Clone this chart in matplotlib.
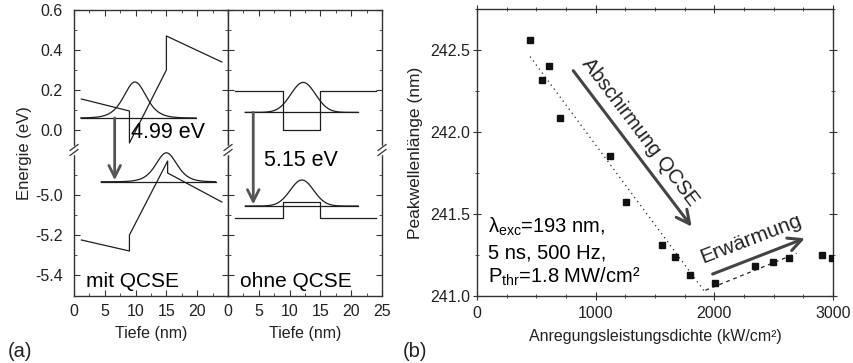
import numpy as np
import matplotlib
matplotlib.use('Agg')
import matplotlib.pyplot as plt
from matplotlib.lines import Line2D
from matplotlib.ticker import FixedLocator, FixedFormatter, MultipleLocator

plt.rcParams['font.family'] = ['Liberation Sans', 'DejaVu Sans']
plt.rcParams['mathtext.fontset'] = 'custom'
plt.rcParams['mathtext.rm'] = 'Liberation Sans'
plt.rcParams['mathtext.it'] = 'Liberation Sans:italic'
plt.rcParams['mathtext.bf'] = 'Liberation Sans:bold'

# ---------------- data (a): band diagrams (depth nm, energy eV) -------------
cb_mit_x = [1.2, 9.0, 9.0, 15.0, 15.0, 24.0]
cb_mit_e = [0.155, 0.095, -0.065, 0.30, 0.47, 0.34]
vb_mit_x = [1.2, 9.0, 9.0, 15.2, 15.2, 24.0]
vb_mit_e = [-5.225, -5.28, -5.20, -4.83, -4.89, -5.035]
lvl_mit_e = [1.1, 19.8, 0.06]        # x start, x end, energy
lvl_mit_h = [4.4, 23.0, -4.934]
wf_mit_e = [9.9, 0.18, 2.45]         # center, amplitude, width
wf_mit_h = [15.0, 0.145, 2.3]

cb_ohne_x = [1.1, 9.0, 9.0, 15.0, 15.0, 24.0]
cb_ohne_e = [0.197, 0.197, 0.0, 0.0, 0.197, 0.197]
vb_ohne_x = [1.1, 9.0, 9.0, 15.0, 15.0, 24.0]
vb_ohne_e = [-5.117, -5.117, -5.033, -5.033, -5.117, -5.117]
lvl_ohne_e = [2.8, 21.1, 0.088]
lvl_ohne_h = [2.8, 21.1, -5.055]
wf_ohne_e = [12.2, 0.15, 2.0]
wf_ohne_h = [12.0, 0.13, 1.9]

arrow_mit_x = 6.6
arrow_ohne_x = 4.1
energy_major = [0.6, 0.4, 0.2, 0.0, -5.0, -5.2, -5.4]
energy_labels = ["0.6", "0.4", "0.2", "0.0", "-5.0", "-5.2", "-5.4"]
energy_minor = [0.5, 0.3, 0.1, -4.9, -5.1, -5.3]

# ---------------- data (b) -------------
power = [447, 548, 609, 697, 1123, 1252, 1556, 1671, 1798, 2005, 2345, 2491, 2632, 2910, 2988]
peak_wl = [242.56, 242.317, 242.40, 242.085, 241.855, 241.573, 241.31, 241.24, 241.13,
           241.077, 241.18, 241.207, 241.23, 241.248, 241.23]
fit1_p = [447, 1929]
fit1_wl = [242.46, 241.016]
fit2_p = [1925, 2693]
fit2_wl = [241.035, 241.26]

OFFSET = 4.675   # shift of the lower (valence band) axis segment


def ey(e):
    e = np.asarray(e, dtype=float)
    return np.where(e < -2, e + OFFSET, e)


W, H = 854, 363
fig = plt.figure(figsize=(W / 100, H / 100), dpi=100)


def rect(x0, y0, x1, y1):
    return [x0 / W, 1 - y1 / H, (x1 - x0) / W, (y1 - y0) / H]


ax1 = fig.add_axes(rect(74, 10, 228, 296))
ax2 = fig.add_axes(rect(228, 10, 382, 296))
ax3 = fig.add_axes(rect(477, 9, 833, 296))

line_c = '#1e1e1e'
arrow_c = '#555555'
FS_TICK = 11.5
FS_LAB = 11.5


def sech2(x, c, a, w):
    return a / np.cosh((x - c) / w) ** 2


def gauss(x, c, a, w):
    return a * np.exp(-0.5 * ((x - c) / w) ** 2)


def draw_panel(ax, cbx, cbe, vbx, vbe, le, lh, we, wh, shape):
    ax.plot(cbx, ey(cbe), color=line_c, lw=0.9)
    ax.plot(vbx, ey(vbe), color=line_c, lw=0.9)
    for lv, wf in ((le, we), (lh, wh)):
        xs = np.linspace(lv[0], lv[1], 300)
        base = float(ey(lv[2]))
        ax.plot([lv[0], lv[1]], [base, base], color=line_c, lw=0.9)
        ax.plot(xs, base + shape(xs, *wf), color=line_c, lw=0.9)


draw_panel(ax1, cb_mit_x, cb_mit_e, vb_mit_x, vb_mit_e, lvl_mit_e, lvl_mit_h,
           wf_mit_e, wf_mit_h, sech2)
draw_panel(ax2, cb_ohne_x, cb_ohne_e, vb_ohne_x, vb_ohne_e, lvl_ohne_e, lvl_ohne_h,
           wf_ohne_e, wf_ohne_h, gauss)

arrow_a = dict(arrowstyle='->,head_length=0.7,head_width=0.35',
               color=arrow_c, lw=2, mutation_scale=12, shrinkA=0, shrinkB=0)
ax1.annotate('', xy=(arrow_mit_x, float(ey(lvl_mit_h[2])) + 0.008),
             xytext=(arrow_mit_x, lvl_mit_e[2]), arrowprops=arrow_a)
ax2.annotate('', xy=(arrow_ohne_x, float(ey(lvl_ohne_h[2])) + 0.008),
             xytext=(arrow_ohne_x, lvl_ohne_e[2]), arrowprops=arrow_a)

ax1.text(9.2, -0.015, '4.99 eV', fontsize=15.5, va='center', ha='left')
ax2.text(5.8, -0.15, '5.15 eV', fontsize=15.5, va='center', ha='left')
ax1.text(1.9, -0.785, 'mit QCSE', fontsize=15, va='baseline', ha='left')
ax2.text(1.9, -0.785, 'ohne QCSE', fontsize=15, va='baseline', ha='left')

for ax in (ax1, ax2):
    ax.set_xlim(0, 25)
    ax.set_ylim(-0.83, 0.6)
    ax.yaxis.set_major_locator(FixedLocator(list(ey(energy_major))))
    ax.yaxis.set_major_formatter(FixedFormatter(energy_labels))
    ax.yaxis.set_minor_locator(FixedLocator(list(ey(energy_minor))))
    ax.xaxis.set_minor_locator(MultipleLocator(2.5))
    ax.tick_params(which='both', direction='in', top=True, right=True,
                   labelsize=FS_TICK, color='#333333', labelcolor='#222222')
    ax.tick_params(which='major', length=4)
    ax.tick_params(axis='x', which='major', pad=6)
    ax.tick_params(axis='y', which='major', pad=8)
    ax.tick_params(which='minor', length=2)
    ax.set_xlabel('Tiefe (nm)', fontsize=FS_LAB, labelpad=5, color='#222222')
    for s in ax.spines.values():
        s.set_linewidth(1.0)
        s.set_color('#333333')

ax1.set_xticks([0, 5, 10, 15, 20, 25])
ax1.set_xticklabels(['0', '5', '10', '15', '20', ''])
ax2.set_xticks([0, 5, 10, 15, 20, 25])
ax2.tick_params(labelleft=False)
ax1.set_ylabel('Energie (eV)', fontsize=FS_LAB + 0.5, labelpad=2, color='#222222')

# axis break marks
for xp in (74, 228, 382):
    yp = 150
    fig.add_artist(Line2D([xp / W, xp / W], [1 - (yp - 3) / H, 1 - (yp + 3) / H],
                          transform=fig.transFigure, color='white', lw=2.5))
    for dy in (-2.5, 2.5):
        fig.add_artist(Line2D([(xp - 4) / W, (xp + 4) / W],
                              [1 - (yp + dy + 3) / H, 1 - (yp + dy - 3) / H],
                              transform=fig.transFigure, color='#333333', lw=0.9))

# ---------------- panel (b) ----------------
ax3.plot(power, peak_wl, 's', color='#111111', ms=4.2, zorder=3)
ax3.plot(fit1_p, fit1_wl, color='#222222', lw=0.9, ls=(0, (1, 3)))
ax3.plot(fit2_p, fit2_wl, color='#222222', lw=0.9, ls=(0, (3, 3)))
ax3.set_xlim(0, 3000)
ax3.set_ylim(241.0, 242.75)
ax3.set_xticks([0, 1000, 2000, 3000])
ax3.set_yticks([241.0, 241.5, 242.0, 242.5])
ax3.set_yticklabels(['241.0', '241.5', '242.0', '242.5'])
ax3.xaxis.set_minor_locator(MultipleLocator(250))
ax3.yaxis.set_minor_locator(MultipleLocator(0.25))
ax3.tick_params(which='both', direction='inout', top=True, right=True,
                labelsize=FS_TICK, color='#333333', labelcolor='#222222')
ax3.tick_params(which='major', length=6)
ax3.tick_params(axis='x', which='major', pad=4)
ax3.tick_params(axis='y', which='major', pad=2)
ax3.tick_params(which='minor', length=3)
for s in ax3.spines.values():
    s.set_linewidth(1.0)
    s.set_color('#333333')
ax3.set_xlabel('Anregungsleistungsdichte (kW/cm²)', fontsize=FS_LAB, labelpad=6,
               color='#222222')
ax3.set_ylabel('Peakwellenlänge (nm)', fontsize=FS_LAB + 1, labelpad=5, color='#222222')

arrow_b = dict(arrowstyle='->,head_length=0.8,head_width=0.4',
               color='#444444', lw=2.2, mutation_scale=12, shrinkA=0, shrinkB=0)
ax3.annotate('', xy=(1809, 241.423), xytext=(811, 242.374), arrowprops=arrow_b)
ax3.annotate('', xy=(2763, 241.352), xytext=(1986, 241.134), arrowprops=arrow_b)
ax3.text(1373, 242.0, 'Abschirmung QCSE', fontsize=14.5, rotation=-52.8,
         rotation_mode='anchor', ha='center', va='center', color='#222222')
ax3.text(2308, 241.345, 'Erwärmung', fontsize=15, rotation=21,
         rotation_mode='anchor', ha='center', va='center', color='#222222')

ax3.text(93, 241.385, r'$\mathrm{λ_{exc}}$=193 nm,', fontsize=14.5, va='baseline')
ax3.text(93, 241.23, '5 ns, 500 Hz,', fontsize=14.5, va='baseline')
ax3.text(93, 241.08, r'$\mathrm{P_{thr}}$=1.8 MW/cm²', fontsize=14.5, va='baseline')

fig.text(8 / W, 1 - 357 / H, '(a)', fontsize=14.5, va='baseline', color='#222222')
fig.text(403 / W, 1 - 357 / H, '(b)', fontsize=14.5, va='baseline', color='#222222')

fig.savefig('out.png', dpi=100)
